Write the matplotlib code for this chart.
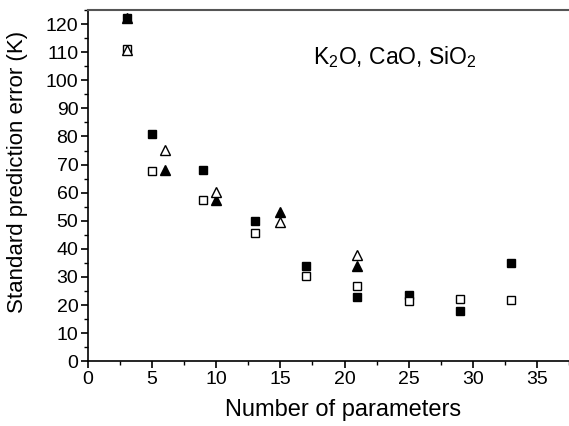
import matplotlib
matplotlib.use("Agg")
import matplotlib.pyplot as plt
from matplotlib.ticker import MultipleLocator

plt.rcParams['font.family'] = ['Liberation Sans', 'DejaVu Sans']
plt.rcParams['mathtext.fontset'] = 'custom'
plt.rcParams['mathtext.rm'] = 'Liberation Sans'
plt.rcParams['mathtext.it'] = 'Liberation Sans'

# data
x_sq = [3, 5, 9, 13, 17, 21, 25, 29, 33]
y_sq_filled = [122, 81, 68.2, 49.8, 33.8, 22.7, 23.5, 17.8, 35.1]
y_sq_open = [111, 67.7, 57.5, 45.8, 30.2, 26.7, 21.3, 22.0, 21.8]

x_tri = [3, 6, 10, 15, 21]
y_tri_filled = [122.3, 68.0, 57.3, 53.1, 33.8]
y_tri_open = [110.9, 75.1, 60.2, 49.6, 37.7]

fig = plt.figure(figsize=(5.69, 4.26), dpi=100)
ax = fig.add_axes([0.1547, 0.152, 0.8453, 0.8245])

ax.plot(x_sq, y_sq_filled, 's', color='black', ms=5.5, ls='none', clip_on=False)
ax.plot(x_sq, y_sq_open, 's', mfc='white', mec='black', mew=1.0, ms=5.5, ls='none', clip_on=False)
ax.plot(x_tri, y_tri_filled, '^', color='black', ms=7, ls='none', clip_on=False)
ax.plot(x_tri, y_tri_open, '^', mfc='white', mec='black', mew=1.0, ms=7, ls='none', clip_on=False)

ax.set_xlim(0, 37.5)
ax.set_ylim(0, 125)
ax.xaxis.set_major_locator(MultipleLocator(5))
ax.xaxis.set_minor_locator(MultipleLocator(2.5))
ax.yaxis.set_major_locator(MultipleLocator(10))
ax.yaxis.set_minor_locator(MultipleLocator(5))
ax.set_xticks([0, 5, 10, 15, 20, 25, 30, 35])

ax.spines['right'].set_visible(False)
ax.spines['top'].set_color('#555555')
ax.spines['top'].set_linewidth(1.5)
ax.spines['left'].set_linewidth(1.2)
ax.spines['bottom'].set_linewidth(1.2)

ax.tick_params(which='major', direction='out', length=5, width=1.2, labelsize=14, pad=2, top=False, right=False)
ax.tick_params(which='minor', direction='out', length=3, width=1.0, top=False, right=False)

ax.set_xlabel('Number of parameters', fontsize=17)
ax.set_ylabel('Standard prediction error (K)', fontsize=16)
ax.xaxis.set_label_coords(0.53, -0.14, transform=ax.transAxes)
ax.yaxis.set_label_coords(-0.146, 0.538, transform=ax.transAxes)
ax.xaxis.label.set_va('center')
ax.yaxis.label.set_va('center')

ax.text(0.468, 0.865, r'K$_2$O, CaO, SiO$_2$', transform=ax.transAxes, fontsize=16.5,
        ha='left', va='center')

fig.savefig('out.png', dpi=100)
